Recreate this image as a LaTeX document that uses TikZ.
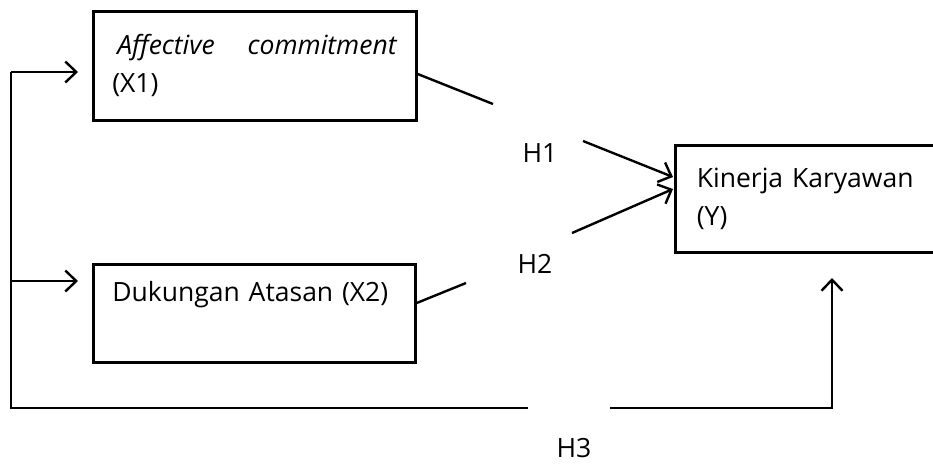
\documentclass[tikz,border=0pt]{standalone}
\usepackage{fontspec}
\setmainfont{Open Sans}
\usetikzlibrary{arrows.meta,calc}

\begin{document}
\begin{tikzpicture}[x=1pt,y=-1pt,
    box/.style={draw,line width=2.7pt,anchor=north west,align=left,inner ysep=0pt,
      font=\fontsize{26.5}{38}\selectfont},
    lbl/.style={anchor=base west,font=\fontsize{26.5}{38}\selectfont},
    arr/.style={line width=2.4pt,-{Straight Barb[length=11pt,width=21pt,line width=2.4pt]}},
    ln/.style={line width=2.4pt}]
    \path[use as bounding box,clip] (0,0) rectangle (933,464);

    \node[box,text width=285pt,inner xsep=19pt,minimum height=109pt] (x1) at (92,10)
      {\strut\hspace*{5pt}\textit{Affective}\hfill\textit{commitment}\hspace*{6pt}\\\strut(X1)};
    \node[box,text width=284pt,inner xsep=19pt,minimum height=98pt] (x2) at (92,263)
      {\strut Dukungan Atasan (X2)\\\strut};
    \node[box,text width=228pt,inner xsep=21.5pt,minimum height=107pt] (y) at (674,144)
      {\strut Kinerja Karyawan\\\strut(Y)};

    \node[lbl] (h1) at (519,162) {H1};
    \node[lbl] (h2) at (514,273) {H2};
    \node[lbl] (h3) at (553,457) {H3};

    \coordinate (h1a) at (493,104);
    \coordinate (h1b) at (583,141);
    \coordinate (h2a) at (466,283);
    \coordinate (h2b) at (572,233);
    \coordinate (fa) at (11,72);
    \coordinate (fb) at (11,281);
    \coordinate (g1) at (528,408);
    \coordinate (g2) at (610,408);
    \coordinate (yt) at (832,278);

    \draw[ln] ($(x1.north east)+(0,64)$) -- (h1a);
    \draw[arr] (h1b) -- ($(y.north west)+(-1,33)$);
    \draw[ln] ($(x2.north east)+(0,40)$) -- (h2a);
    \draw[arr] (h2b) -- ($(y.north west)+(-1,45)$);

    \draw[ln] (fa) |- (g1);
    \draw[arr,shorten >=14pt] (fa) -- (x1.west |- fa);
    \draw[arr,shorten >=14pt] (fb) -- (x2.west |- fb);
    \draw[arr] (g2) -| (yt);
\end{tikzpicture}
\end{document}
